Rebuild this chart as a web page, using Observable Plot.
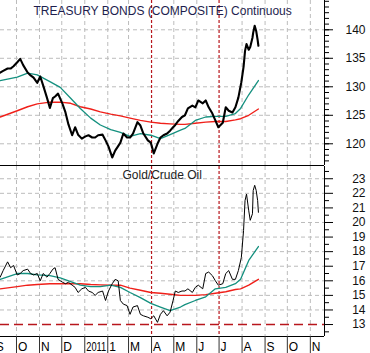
<!DOCTYPE html>
<html><head><meta charset="utf-8">
<script src="https://cdn.jsdelivr.net/npm/d3@7"></script>
<script src="https://cdn.jsdelivr.net/npm/@observablehq/plot@0.6"></script>
<style>
body{margin:0;background:#fff;}
#wrap{position:relative;width:370px;height:353px;overflow:hidden;background:#fff;}
#top,#bot{position:absolute;left:0;}
#top{top:0}
#bot{top:166px}
</style></head><body><div id="wrap"><div id="top"></div><div id="bot"></div></div>
<script>
// ---- data ----
const topTitle = "TREASURY BONDS (COMPOSITE) Continuous";
const botTitle = "Gold/Crude Oil";

const monthStarts = ["2010-09-01","2010-10-01","2010-11-01","2010-12-01","2011-01-01","2011-02-01","2011-03-01","2011-04-01","2011-05-01","2011-06-01","2011-07-01","2011-08-01","2011-09-01","2011-10-01","2011-11-01"];
const monthLabels = ["S","O","N","D","2011","1","M","A","M","J","J","A","S","O","N"];
const markerDates = ["2011-04-01","2011-07-01"];

const bondTicks = [120,125,130,135,140];
const bondMinor = [117,118,119,120,121,122,123,124,125,126,127,128,129,130,131,132,133,134,135,136,137,138,139,140,141,142,143,144,145];
const ratioTicks = [13,14,15,16,17,18,19,20,21,22,23];
const ratioMinor = [12.5,13.5,14.5,15.5,16.5,17.5,18.5,19.5,20.5,21.5,22.5,23.5];
const ratioRef = [13];

const priceDates = ["2010-09-09","2010-09-13","2010-09-19","2010-09-23","2010-09-27","2010-10-02","2010-10-06","2010-10-10","2010-10-16","2010-10-20",
"2010-10-24","2010-10-29","2010-11-02","2010-11-06","2010-11-11","2010-11-15","2010-11-19","2010-11-22","2010-11-26","2010-12-02",
"2010-12-06","2010-12-10","2010-12-15","2010-12-19","2010-12-23","2010-12-28","2011-01-02","2011-01-06","2011-01-11","2011-01-15",
"2011-01-19","2011-01-25","2011-01-29","2011-02-02","2011-02-07","2011-02-11","2011-02-15","2011-02-18","2011-02-22","2011-02-27",
"2011-03-03","2011-03-07","2011-03-13","2011-03-17","2011-03-21","2011-03-27","2011-03-31","2011-04-04","2011-04-09","2011-04-13",
"2011-04-17","2011-04-22","2011-04-26","2011-04-30","2011-05-03","2011-05-07","2011-05-12","2011-05-16","2011-05-20","2011-05-26",
"2011-05-30","2011-06-03","2011-06-09","2011-06-13","2011-06-17","2011-06-22","2011-06-26","2011-06-30","2011-07-06","2011-07-10",
"2011-07-14","2011-07-19","2011-07-23","2011-07-27","2011-07-31","2011-08-03","2011-08-05","2011-08-07","2011-08-10","2011-08-12",
"2011-08-15","2011-08-16","2011-08-18","2011-08-20","2011-08-22","2011-08-23"];

const bondPrice = [132.5,132.8,133.2,133.2,133.6,134.3,134.9,133.8,132.5,132.0,
131.6,130.7,131.8,130.2,128.1,126.3,128.0,128.3,128.8,127.0,
125.5,123.4,121.5,122.9,121.6,120.9,121.3,121.5,121.1,121.1,
121.5,121.6,120.6,119.5,117.6,118.8,119.6,120.2,121.8,121.1,
121.1,121.8,123.8,123.2,121.8,120.6,120.2,118.3,120.0,121.1,
121.5,121.8,122.3,122.9,123.3,124.0,124.7,125.0,126.2,126.7,
126.4,127.6,127.1,127.6,126.4,125.3,124.1,122.9,123.7,126.4,
125.8,125.5,126.4,128.1,130.8,133.5,136.3,137.5,136.5,137.0,
138.6,139.5,140.7,139.8,138.2,137.2];

const goldOil = [16.25,16.7,17.3,16.9,17.05,16.4,16.5,16.7,16.8,16.5,
16.4,16.5,16.0,16.5,16.25,16.5,16.8,16.9,16.1,15.9,
15.8,15.9,15.7,15.55,15.2,15.45,15.55,15.3,15.2,15.0,
15.2,15.3,14.65,15.3,15.8,16.1,16.0,14.65,14.4,14.3,
13.7,14.2,14.3,13.7,13.6,13.5,13.4,13.6,13.15,13.7,
13.95,13.6,13.85,14.65,15.3,15.2,15.3,15.3,15.45,15.2,
15.55,15.7,15.45,16.5,16.6,16.35,16.0,15.7,15.8,16.5,
16.7,16.1,16.1,16.7,17.6,19.45,21.5,21.95,20.8,20.15,
20.6,22.2,22.55,22.2,21.5,20.7];

const maDates = ["2010-09-09","2010-10-02","2010-10-16","2010-10-29","2010-11-15","2010-11-29","2010-12-13","2010-12-26","2011-01-09","2011-01-22",
"2011-02-05","2011-02-18","2011-03-03","2011-03-17","2011-03-31","2011-04-13","2011-04-26","2011-05-10","2011-05-16","2011-05-30",
"2011-06-13","2011-06-26","2011-07-10","2011-07-23","2011-07-30","2011-08-10","2011-08-23"];

const bondFast = [131.1,131.7,132.4,132.1,130.9,129.9,128.0,126.2,124.5,123.3,122.5,122.0,121.3,121.8,121.5,120.9,121.6,122.4,122.7,124.1,124.7,124.8,124.8,125.3,126.2,128.6,131.1];
const bondSlow = [124.7,125.8,126.5,127.0,127.3,127.3,127.1,126.5,126.1,125.6,125.2,124.9,124.5,124.1,123.8,123.6,123.5,123.4,123.4,123.6,123.8,123.9,123.9,124.2,124.4,125.0,126.1];
const goldFast = [16.1,16.5,16.5,16.4,16.35,16.2,15.95,15.7,15.6,15.6,15.7,15.55,15.2,14.85,14.45,14.2,13.95,14.2,14.37,14.65,14.9,15.45,15.55,15.8,16.1,17.4,18.35];
const goldSlow = [15.45,15.6,15.7,15.75,15.8,15.8,15.8,15.8,15.75,15.72,15.7,15.7,15.5,15.35,15.2,15.15,15.08,15.0,15.0,15.0,15.05,15.15,15.25,15.4,15.45,15.7,16.1];

// ---- build tables ----
const series = (dates, vals) => dates.map((d, i) => ({date: new Date(d), value: vals[i]}));
const bond = series(priceDates, bondPrice);
const ratio = series(priceDates, goldOil);
const bFast = series(maDates, bondFast), bSlow = series(maDates, bondSlow);
const gFast = series(maDates, goldFast), gSlow = series(maDates, goldSlow);
const months = monthStarts.map(d => new Date(d));
const gridMonths = monthStarts.filter(d => !markerDates.includes(d)).map(d => new Date(d));
const markers = markerDates.map(d => new Date(d));

const xDomain = [new Date("2010-09-09T10:30:00Z"), new Date("2011-11-20T02:00:00Z")];
const FONT = "Liberation Sans, Arial, Helvetica, sans-serif";
const GRID = {stroke: "#bcbcbc", strokeDasharray: "4,3", strokeWidth: 1};
const TEAL = "#14907f", RED = "#f0201a", DARKRED = "#b8161c";

const common = {
  width: 370, marginLeft: 0, marginRight: 46,
  x: {type: "utc", domain: xDomain, axis: null},
  style: {fontFamily: FONT, background: "white", overflow: "visible", color: "black"}
};

const topDomain = [116.19, 145.14];
const topPlot = Plot.plot({
  ...common, height: 166, marginTop: 0, marginBottom: 1,
  y: {domain: topDomain, axis: null},
  marks: [
    Plot.ruleY(bondTicks, GRID),
    Plot.ruleX(gridMonths, GRID),
    Plot.ruleX(markers, {stroke: DARKRED, strokeDasharray: "3,2", strokeWidth: 1.2}),
    Plot.line(bSlow, {x: "date", y: "value", stroke: RED, strokeWidth: 1.4}),
    Plot.line(bFast, {x: "date", y: "value", stroke: TEAL, strokeWidth: 1.3}),
    Plot.line(bond, {x: "date", y: "value", stroke: "black", strokeWidth: 2.1}),
    Plot.ruleX([xDomain[1]], {stroke: "black"}),
    Plot.ruleY([topDomain[0]], {stroke: "black"}),
    Plot.axisY({anchor: "right", ticks: bondMinor, tickSize: 4, tickFormat: () => "", label: null}),
    Plot.axisY({anchor: "right", ticks: bondTicks, tickSize: 8, tickFormat: () => "", label: null}),
    Plot.text(bondTicks, {y: d => d, text: d => String(d), frameAnchor: "right", dx: 41, textAnchor: "end", fontSize: 12, fill: "#111"}),
    Plot.text([topTitle], {frameAnchor: "top-left", dx: 33, dy: 6, textAnchor: "start", lineAnchor: "top", fontSize: 12, fill: "#1e1e4e"})
  ]
});
document.getElementById("top").append(topPlot);

const botDomain = [12.18, 23.84];
const botPlot = Plot.plot({
  ...common, height: 187, marginTop: 0, marginBottom: 17,
  y: {domain: botDomain, axis: null},
  marks: [
    Plot.ruleY(ratioTicks.filter(t => !ratioRef.includes(t)), GRID),
    Plot.ruleX(gridMonths, GRID),
    Plot.ruleY(ratioRef, {stroke: DARKRED, strokeDasharray: "9,5", strokeWidth: 1.4}),
    Plot.ruleX(markers, {stroke: DARKRED, strokeDasharray: "3,2", strokeWidth: 1.2}),
    Plot.line(gSlow, {x: "date", y: "value", stroke: RED, strokeWidth: 1.4}),
    Plot.line(gFast, {x: "date", y: "value", stroke: TEAL, strokeWidth: 1.3}),
    Plot.line(ratio, {x: "date", y: "value", stroke: "black", strokeWidth: 1}),
    Plot.ruleX([xDomain[1]], {stroke: "black"}),
    Plot.ruleY([botDomain[0]], {stroke: "black"}),
    Plot.axisY({anchor: "right", ticks: ratioMinor, tickSize: 4, tickFormat: () => "", label: null}),
    Plot.axisY({anchor: "right", ticks: ratioTicks, tickSize: 8, tickFormat: () => "", label: null}),
    Plot.text(ratioTicks, {y: d => d, text: d => String(d), frameAnchor: "right", dx: 41, textAnchor: "end", fontSize: 12, fill: "#111"}),
    Plot.axisX({anchor: "bottom", ticks: months, tickSize: 17, tickFormat: () => "", stroke: "#333", label: null}),
    Plot.text(monthLabels, {x: (d, i) => months[i], text: d => d, frameAnchor: "bottom", dx: 1.5, dy: 6, textAnchor: "start", lineAnchor: "top", fontSize: 12, fill: "black"}),
    Plot.text([botTitle], {frameAnchor: "top-left", dx: 122, dy: 4, textAnchor: "start", lineAnchor: "top", fontSize: 12, fill: "#222"})
  ]
});
document.getElementById("bot").append(botPlot);

// narrow the wide year label so it fits in its month box like the reference
d3.select(botPlot).selectAll("text").filter(function(){ return this.textContent === "2011"; })
  .attr("textLength", 20).attr("lengthAdjust", "spacingAndGlyphs");
</script></body></html>
